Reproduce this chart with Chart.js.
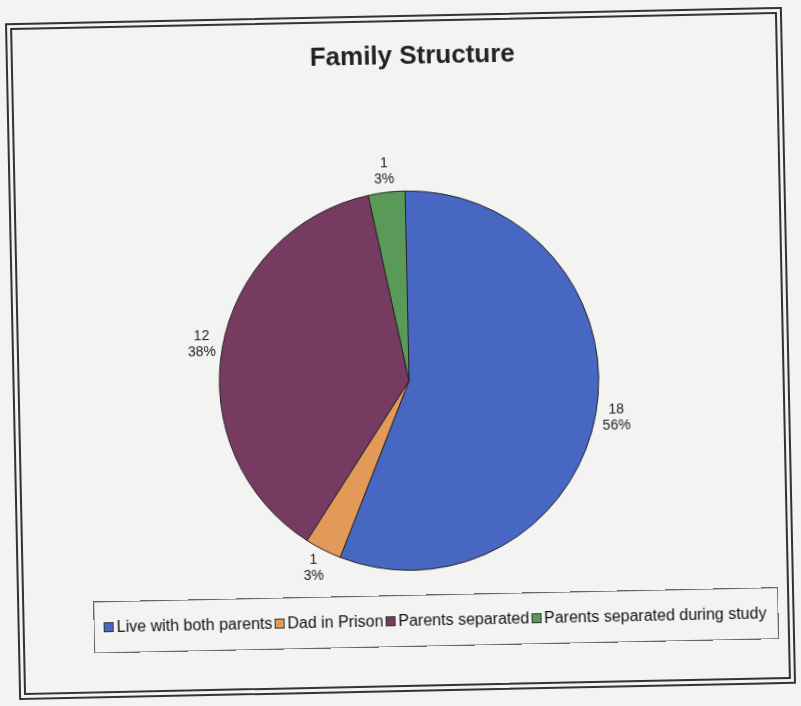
<!DOCTYPE html>
<html>
<head>
<meta charset="utf-8">
<script src="https://cdn.jsdelivr.net/npm/chart.js@4"></script>
<style>
  body { margin: 0; width: 801px; height: 706px; background: #f3f3f1; overflow: hidden; font-family: "Liberation Sans", Arial, sans-serif; }
  #hoja { position: absolute; left: 12px; top: 15px; width: 777px; height: 677px; transform: rotate(-1.2deg); transform-origin: center; }
  #marco { position: absolute; left: 0; top: 0; right: 0; bottom: 0; border: 7px double #333; }
  #caja { position: absolute; left: 0; top: 0; width: 777px; height: 677px; }
  #leyenda { position: absolute; left: 76px; top: 580px; width: 683px; height: 50px; border: 1px solid #666;
             display: flex; justify-content: center; align-items: center; font-size: 16px; color: #111; }
  .item { display: flex; align-items: center; margin-right: 2px; white-space: nowrap; }
  .marca { width: 8px; height: 8px; border: 1px solid #333; margin-right: 3px; }
</style>
</head>
<body>
<div id="hoja">
  <div id="marco"></div>
  <div id="caja"><canvas id="grafico"></canvas></div>
  <div id="leyenda"></div>
</div>
<script>
const categorias = ['Live with both parents', 'Dad in Prison', 'Parents separated', 'Parents separated during study'];
const cantidades = [18, 1, 12, 1];
const colores = ['#4867c3', '#e39a58', '#773b62', '#5a9a58'];

const total = cantidades.reduce((a, b) => a + b, 0);

// etiquetas fuera del pastel: valor y porcentaje
const etiquetasFuera = {
    id: 'etiquetasFuera',
    afterDatasetsDraw(chart) {
        const ctx = chart.ctx;
        const meta = chart.getDatasetMeta(0);
        ctx.save();
        ctx.font = '14px "Liberation Sans", Arial, sans-serif';
        ctx.fillStyle = '#222';
        ctx.textAlign = 'center';
        ctx.textBaseline = 'middle';
        meta.data.forEach((arco, i) => {
            const p = arco.getProps(['x', 'y', 'startAngle', 'endAngle', 'outerRadius'], true);
            const medio = (p.startAngle + p.endAngle) / 2;
            const r = p.outerRadius + 21;
            const x = p.x + Math.cos(medio) * r;
            const y = p.y + Math.sin(medio) * r;
            const valor = cantidades[i];
            ctx.fillText(`${valor}`, x, y - 8);
            ctx.fillText(`${Math.round(valor / total * 100)}%`, x, y + 8);
        });
        ctx.restore();
    }
};

// el titulo del original queda un poco a la derecha del pastel
const correrTitulo = {
    id: 'correrTitulo',
    afterLayout(chart) {
        chart.titleBlock.left += 10;
        chart.titleBlock.right += 10;
    }
};

const grafico = document.getElementById('grafico');
new Chart(grafico, {
    type: 'pie',
    data: {
        labels: categorias,
        datasets: [
            {
                data: cantidades,
                backgroundColor: colores,
                borderColor: '#222',
                borderWidth: 1,
            },
        ],
    },
    options: {
        responsive: true,
        maintainAspectRatio: false,
        animation: false,
        layout: {
            padding: { left: 206, right: 190, top: 26, bottom: 121 }
        },
        plugins: {
            legend: { display: false },
            tooltip: { enabled: false },
            title: {
                display: true,
                text: 'Family Structure',
                color: '#222',
                font: { family: '"Liberation Sans", Arial, sans-serif', size: 26, weight: 'bold', lineHeight: 1.2 },
                padding: { top: 0, bottom: 118.5 }
            }
        }
    },
    plugins: [etiquetasFuera, correrTitulo]
});

const leyenda = document.getElementById('leyenda');
categorias.forEach((nombre, i) => {
    const item = document.createElement('div');
    item.className = 'item';
    const marca = document.createElement('span');
    marca.className = 'marca';
    marca.style.background = colores[i];
    const texto = document.createElement('span');
    texto.textContent = nombre;
    item.appendChild(marca);
    item.appendChild(texto);
    leyenda.appendChild(item);
});
</script>
</body>
</html>
